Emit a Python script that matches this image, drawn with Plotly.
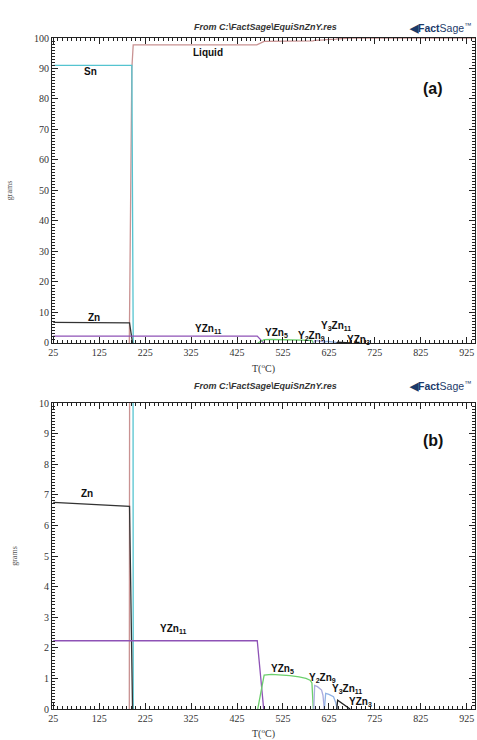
import plotly.graph_objects as go

# ---------------- data (temperature in deg C, amounts in grams) ----------------
liquid_T = [190.5, 193, 196, 199, 468, 476, 484, 590, 594, 614, 618, 640, 644, 672, 943]
liquid_g = [0, 50, 90, 97.77, 97.77, 98.3, 98.88, 99.05, 99.23, 99.38, 99.49, 99.6, 99.71, 100, 100]

sn_T = [25, 196, 199]
sn_g = [91.0, 91.0, 0]

zn_T = [25, 191, 197.5]
zn_g = [6.75, 6.62, 0]

yzn11_T = [25, 469, 483]
yzn11_g = [2.23, 2.23, 0]

yzn5_T = [470, 477, 484, 500, 520, 540, 560, 575, 584, 588, 591]
yzn5_g = [0, 0.6, 1.11, 1.13, 1.12, 1.09, 1.05, 1.0, 0.94, 0.85, 0]

y2zn9_T = [592, 594, 600, 609, 612, 615]
y2zn9_g = [0, 0.77, 0.73, 0.62, 0.45, 0]

y3zn11_T = [615, 618, 625, 635, 640, 643]
y3zn11_g = [0, 0.51, 0.48, 0.40, 0.2, 0]

yzn3_T = [642, 644, 671]
yzn3_g = [0, 0.29, 0]

x_ticks = [25, 125, 225, 325, 425, 525, 625, 725, 825, 925]

phases = [
    ("Liquid", liquid_T, liquid_g, "#c99292"),
    ("Sn", sn_T, sn_g, "#55c4d0"),
    ("Zn", zn_T, zn_g, "#333333"),
    ("YZn11", yzn11_T, yzn11_g, "#8e52b6"),
    ("YZn5", yzn5_T, yzn5_g, "#6ccf6c"),
    ("Y2Zn9", y2zn9_T, y2zn9_g, "#a9abdf"),
    ("Y3Zn11", y3zn11_T, y3zn11_g, "#8fb1e4"),
    ("YZn3", yzn3_T, yzn3_g, "#222222"),
]

fig = go.Figure()
for xa, ya in (("x", "y"), ("x2", "y2")):
    for name, T, g, col in phases:
        fig.add_trace(go.Scatter(x=T, y=g, mode="lines", name=name,
                                 line=dict(color=col, width=1.3),
                                 xaxis=xa, yaxis=ya, showlegend=False,
                                 hoverinfo="skip"))

serif = "Liberation Serif"
sans = "Liberation Sans"

xcommon = dict(range=[22.2, 943], tickmode="array", tickvals=x_ticks, automargin=False,
               ticks="inside", ticklen=6, tickcolor="#222", tickwidth=1,
               showline=True, linecolor="#222", linewidth=1, mirror="allticks",
               showgrid=False, zeroline=False,
               tickfont=dict(family=serif, size=10, color="#333"),
               minor=dict(ticks="inside", ticklen=3, tick0=25, dtick=10,
                          tickcolor="#222", showgrid=False),
               title=dict(text="T(<sup>o</sup>C)",
                          font=dict(family=serif, size=10, color="#333"),
                          standoff=8))
ycommon = dict(ticks="inside", ticklen=6, tickcolor="#222", tickwidth=1, automargin=False,
               showline=True, linecolor="#222", linewidth=1, mirror="allticks",
               showgrid=False, zeroline=False,
               tickfont=dict(family=serif, size=10, color="#333"),
               title=dict(text="grams", font=dict(family=serif, size=8, color="#555"),
                          standoff=20))

fig.update_layout(
    width=477, height=740,
    margin=dict(l=52, r=2, t=38, b=31),
    paper_bgcolor="white", plot_bgcolor="white",
    xaxis=dict(domain=[0, 1], anchor="y", **xcommon),
    yaxis=dict(domain=[0.5455, 1], anchor="x", range=[0, 100], dtick=10,
               minor=dict(ticks="inside", ticklen=3, dtick=1, tickcolor="#222", showgrid=False),
               **ycommon),
    xaxis2=dict(domain=[0, 1], anchor="y2", **xcommon),
    yaxis2=dict(domain=[0, 0.456], anchor="x2", range=[0, 10], dtick=1,
                minor=dict(ticks="inside", ticklen=3, dtick=0.1, tickcolor="#222", showgrid=False),
                **ycommon),
)

lab_font = dict(family=sans, size=10, color="#111")
ann = []
labels_a = [("<b>Sn</b>", 105, 88.9), ("<b>Liquid</b>", 362, 95.1), ("<b>Zn</b>", 114, 8.2),
            ("<b>YZn<sub>11</sub></b>", 362, 4.6), ("<b>YZn<sub>5</sub></b>", 510, 3.3),
            ("<b>Y<sub>2</sub>Zn<sub>9</sub></b>", 586, 2.3),
            ("<b>Y<sub>3</sub>Zn<sub>11</sub></b>", 640, 5.6), ("<b>YZn<sub>3</sub></b>", 690, 1.0)]
labels_b = [("<b>Zn</b>", 98, 7.03), ("<b>YZn<sub>11</sub></b>", 286, 2.61),
            ("<b>YZn<sub>5</sub></b>", 525, 1.31), ("<b>Y<sub>2</sub>Zn<sub>9</sub></b>", 610, 1.01),
            ("<b>Y<sub>3</sub>Zn<sub>11</sub></b>", 664, 0.65), ("<b>YZn<sub>3</sub></b>", 693, 0.23)]
for t, x, y in labels_a:
    ann.append(dict(text=t, x=x, y=y, xref="x", yref="y", showarrow=False, font=lab_font))
for t, x, y in labels_b:
    ann.append(dict(text=t, x=x, y=y, xref="x2", yref="y2", showarrow=False, font=lab_font))

for ytitle, ylogo, ypanel, plab in ((1.027, 1.028, 0.9405, "(a)"), (0.481, 0.482, 0.4, "(b)")):
    ann.append(dict(text="<b><i>From C:\\FactSage\\EquiSnZnY.res</i></b>", x=0.504, y=ytitle,
                    xref="paper", yref="paper", showarrow=False,
                    font=dict(family=sans, size=9, color="#333")))
    ann.append(dict(text="<b>\u25C0Fact</b>Sage<sup>\u2122</sup>", x=0.84, y=ylogo, xanchor="left",
                    xref="paper", yref="paper", showarrow=False,
                    font=dict(family=sans, size=10.5, color="#1c3a6a")))
    ann.append(dict(text="<b>%s</b>" % plab, x=0.93, y=ypanel, xref="paper", yref="paper",
                    showarrow=False, font=dict(family=sans, size=16, color="#111")))

fig.update_layout(annotations=ann)
fig.write_html("out.html", config={"displayModeBar": False},
               post_script="document.body.style.margin='0';document.body.style.overflow='hidden';")
